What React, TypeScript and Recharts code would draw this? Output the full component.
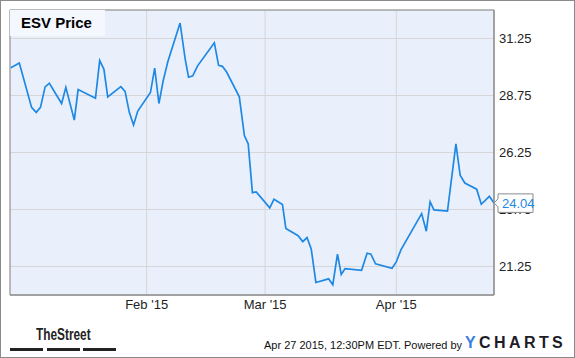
import React from "react";
import {
  LineChart,
  Line,
  XAxis,
  YAxis,
  CartesianGrid,
  ReferenceArea,
  LabelList,
} from "recharts";

// day = days since Jan 1 2015
const days: number[] = [
  -1.1, 0.9, 3.8, 4.9, 5.9, 7.0, 8.0, 10.9, 11.9, 13.9, 14.8, 18.9, 19.9, 20.9,
  21.8, 24.9, 25.9, 26.9, 27.9, 28.9, 31.9, 32.9, 33.9, 34.9, 36.0, 38.9, 40.1,
  40.9, 41.9, 43.0, 47.0, 48.0, 48.9, 49.9, 52.9, 54.1, 55.0, 56.0, 56.9, 60.1,
  61.1, 63.1, 63.9, 64.7, 66.8, 67.9, 68.9, 69.9, 71.0, 74.0, 75.0, 76.1, 77.0,
  77.9, 81.8, 83.1, 84.0, 85.1, 89.0, 90.0, 91.1, 96.0, 97.1, 98.0, 98.9, 102.1,
  104.1, 105.1, 106.2, 109.0, 110.1, 112.0, 113.1,
];
const prices: number[] = [
  29.97, 30.17, 28.23, 28.01, 28.23, 29.13, 29.29, 28.4, 29.11, 27.67, 29.01,
  28.63, 30.28, 29.9, 28.69, 29.14, 28.93, 28.01, 27.46, 28.07, 28.88, 29.95,
  28.4, 29.39, 30.23, 31.93, 30.36, 29.55, 29.61, 30.04, 31.06, 30.07, 30.03,
  29.78, 28.69, 26.99, 26.63, 24.49, 24.52, 23.82, 24.2, 23.97, 22.92, 22.83,
  22.6, 22.34, 22.52, 22.02, 20.55, 20.71, 20.45, 21.79, 20.9, 21.16, 21.08,
  21.83, 21.79, 21.37, 21.17, 21.45, 21.98, 23.57, 22.8, 24.09, 23.73, 23.68,
  26.63, 25.25, 24.91, 24.64, 23.98, 24.33, 24.04,
];

const monthTicks: number[] = [31, 59, 90];
const monthLabels: string[] = ["Feb '15", "Mar '15", "Apr '15"];
const priceTicks: number[] = [21.25, 23.75, 26.25, 28.75, 31.25];

const data = days.map((d, i) => ({ day: d, price: prices[i] }));

const FONT = "'Liberation Sans', Arial, Helvetica, sans-serif";
const LINE = "#1e88e5";

const LastPrice = (props: any) => {
  const { x, y, index, value } = props;
  if (index !== data.length - 1) return null;
  const px = Number(x);
  const py = Number(y);
  return (
    <g>
      <path
        d={`M${px},${py} L${px + 4},${py - 4} L${px + 4},${py - 9} L${px + 39},${py - 9} L${px + 39},${py + 9.5} L${px + 4},${py + 9.5} L${px + 4},${py + 4} Z`}
        fill="#fff"
        stroke="#8a8a8a"
        strokeWidth={1}
      />
      <text x={px + 8} y={py + 5} fill={LINE} fontSize={13} fontFamily={FONT}>
        {Number(value).toFixed(2)}
      </text>
    </g>
  );
};

export default function App() {
  return (
    <div
      style={{
        position: "absolute",
        left: 0,
        top: 0,
        width: 575,
        height: 358,
        background: "#fff",
        fontFamily: FONT,
      }}
    >
      <LineChart
        width={575}
        height={358}
        data={data}
        margin={{ top: 10, right: 10, left: 10, bottom: 38 }}
      >
        <CartesianGrid stroke="#d6d6d6" fill="#eaf0fb" fillOpacity={1} />
        <ReferenceArea
          x1={-1.3}
          x2={113.1}
          y1={20}
          y2={32.5}
          fill="none"
          stroke="#8a8a8a"
          strokeOpacity={1}
        />
        <XAxis
          dataKey="day"
          type="number"
          domain={[-1.3, 113.1]}
          ticks={monthTicks}
          tickFormatter={(v: number) => monthLabels[monthTicks.indexOf(v)]}
          axisLine={{ stroke: "#8a8a8a" }}
          tickLine={false}
          tickSize={0}
          tickMargin={5}
          height={25}
          tick={{ fill: "#222", fontSize: 13, fontFamily: FONT }}
          allowDataOverflow
        />
        <YAxis
          orientation="right"
          domain={[20, 32.5]}
          ticks={priceTicks}
          tickFormatter={(v: number) => v.toFixed(2)}
          axisLine={{ stroke: "#8a8a8a" }}
          tickLine={false}
          tickSize={0}
          tickMargin={5}
          width={71}
          tick={{ fill: "#222", fontSize: 13, fontFamily: FONT, textAnchor: "start" }}
          allowDataOverflow
        />
        <Line
          type="linear"
          dataKey="price"
          stroke={LINE}
          strokeWidth={1.7}
          dot={false}
          activeDot={false}
          isAnimationActive={false}
        >
          <LabelList dataKey="price" content={LastPrice} />
        </Line>
      </LineChart>

      <div
        style={{
          position: "absolute",
          left: 10,
          top: 10,
          width: 95,
          height: 26,
          background: "#f4f7fd",
          fontWeight: "bold",
          fontSize: 15,
          color: "#000",
          lineHeight: "26px",
          paddingLeft: 11,
          boxSizing: "border-box",
        }}
      >
        ESV Price
      </div>

      <div
        style={{
          position: "absolute",
          left: 36,
          top: 326,
          fontWeight: "bold",
          fontSize: 16,
          color: "#222",
          lineHeight: "18px",
          transform: "scaleX(0.74)",
          transformOrigin: "left top",
          whiteSpace: "nowrap",
        }}
      >
        TheStreet
      </div>
      {[10, 47, 83].map((l) => (
        <div
          key={l}
          style={{
            position: "absolute",
            left: l,
            top: 348,
            width: 33,
            height: 3,
            background: "#222",
          }}
        />
      ))}

      <div
        style={{
          position: "absolute",
          left: 264,
          top: 338,
          fontSize: 11,
          color: "#111",
          lineHeight: "14px",
          whiteSpace: "pre",
        }}
      >
        {"Apr 27 2015, 12:30PM EDT. Powered by"}
      </div>
      <div
        style={{
          position: "absolute",
          left: 465,
          top: 334,
          fontSize: 16,
          fontWeight: "bold",
          letterSpacing: 3.4,
          color: "#1c1c28",
          lineHeight: "18px",
          whiteSpace: "nowrap",
        }}
      >
        <span style={{ color: "#3c7ee0" }}>Y</span>CHARTS
      </div>

      <div
        style={{
          position: "absolute",
          left: 0,
          top: 0,
          width: 575,
          height: 358,
          border: "1px solid #8a8a8a",
          boxSizing: "border-box",
          pointerEvents: "none",
        }}
      />
    </div>
  );
}
